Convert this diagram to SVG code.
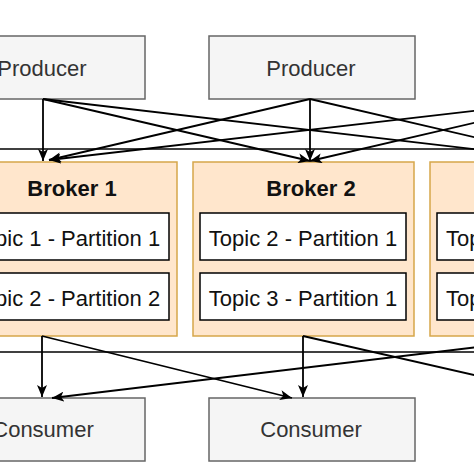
<svg xmlns="http://www.w3.org/2000/svg" width="474" height="474" viewBox="0 0 474 474">
<defs>
<marker id="arr" viewBox="0 0 12 10" refX="12" refY="5" markerWidth="12" markerHeight="10" markerUnits="userSpaceOnUse" orient="auto">
<path d="M0,0 L12,5 L0,10 L3,5 z" fill="#000"/>
</marker>
<style>
.pc{fill:#f5f5f5;stroke:#666666;stroke-width:1.5}
.br{fill:#ffe6cc;stroke:#d6a64a;stroke-width:1.5}
.tp{fill:#ffffff;stroke:#000000;stroke-width:1.5}
.t{font-family:"Liberation Sans",Arial,sans-serif;font-size:22px;text-anchor:middle}
.ts{text-anchor:start}
.tg{fill:#333333}
.tb{font-weight:bold;fill:#111111}
.tk{fill:#111111}
.c{stroke:#000;stroke-width:1.8;fill:none;marker-end:url(#arr)}
.h{stroke:#000;stroke-width:1.3}
</style>
</defs>
<rect width="474" height="474" fill="#ffffff"/>
<g id="lines">
<line class="h" x1="0" y1="149" x2="474" y2="149"/>
<line class="h" x1="0" y1="352" x2="474" y2="352"/>
</g>
<g id="producer1"><rect class="pc" x="-61" y="36" width="206" height="63"/><text class="t tg" x="42" y="76">Producer</text></g>
<g id="producer2"><rect class="pc" x="209" y="36" width="206" height="63"/><text class="t tg" x="311" y="76">Producer</text></g>
<g id="broker1">
<rect class="br" x="-44" y="162" width="221" height="174"/>
<text class="t tb" x="72" y="196">Broker 1</text>
<rect class="tp" x="-37" y="213" width="206" height="47"/>
<text class="t tk" x="66" y="246">Topic 1 - Partition 1</text>
<rect class="tp" x="-37" y="273" width="206" height="47"/>
<text class="t tk" x="66" y="306">Topic 2 - Partition 2</text>
</g>
<g id="broker2">
<rect class="br" x="193" y="162" width="221" height="174"/>
<text class="t tb" x="311" y="196">Broker 2</text>
<rect class="tp" x="200" y="213" width="206" height="47"/>
<text class="t tk" x="303" y="246">Topic 2 - Partition 1</text>
<rect class="tp" x="200" y="273" width="206" height="47"/>
<text class="t tk" x="303" y="306">Topic 3 - Partition 1</text>
</g>
<g id="broker3">
<rect class="br" x="430" y="162" width="221" height="174"/>
<rect class="tp" x="437" y="213" width="206" height="47"/>
<text class="t tk ts" x="446" y="246">Topic</text>
<rect class="tp" x="437" y="273" width="206" height="47"/>
<text class="t tk ts" x="446" y="306">Topic</text>
</g>
<g id="consumer1"><rect class="pc" x="-61" y="398" width="206" height="63"/><text class="t tg" x="43" y="437">Consumer</text></g>
<g id="consumer2"><rect class="pc" x="209" y="398" width="206" height="63"/><text class="t tg" x="311" y="437">Consumer</text></g>
<g id="connectors">
<line class="c" x1="43" y1="99" x2="43" y2="161"/>
<line class="c" x1="43" y1="99" x2="310" y2="161"/>
<line class="c" x1="43" y1="99" x2="577" y2="161"/>
<line class="c" x1="310" y1="99" x2="49" y2="160"/>
<line class="c" x1="310" y1="99" x2="310" y2="161"/>
<line class="c" x1="310" y1="99" x2="577" y2="161"/>
<line class="c" x1="577" y1="99" x2="49" y2="160"/>
<line class="c" x1="577" y1="99" x2="310" y2="161"/>
<line class="c" x1="42" y1="336" x2="42" y2="397"/>
<line class="c" x1="42" y1="336" x2="292" y2="398"/>
<line class="c" x1="303" y1="336" x2="303" y2="397"/>
<line class="c" x1="303" y1="336" x2="575" y2="398"/>
<line class="c" x1="570" y1="336" x2="52" y2="398"/>
</g>
</svg>
